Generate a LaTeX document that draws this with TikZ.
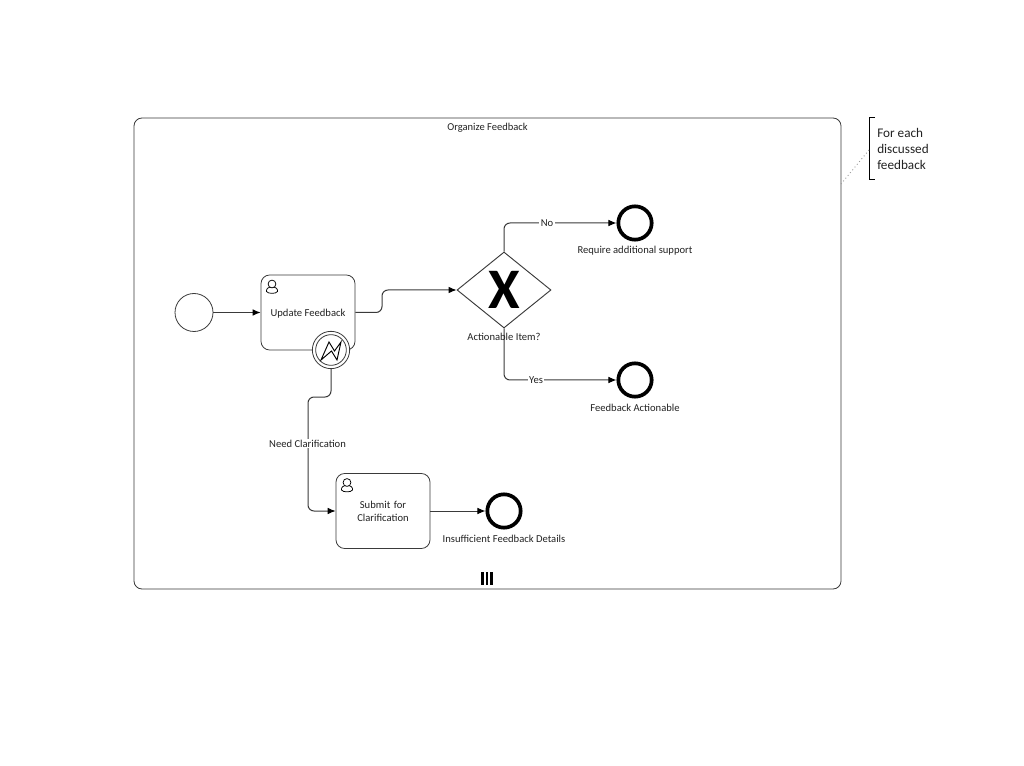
\documentclass[tikz,border=0pt]{standalone}
\usepackage{fontspec}
\setmainfont{Carlito}
\usetikzlibrary{arrows.meta,shapes.geometric}
\definecolor{ln}{HTML}{3A3A3A}
\definecolor{tx}{HTML}{222222}
\tikzset{
  x=0.75pt,y=-0.75pt,
  lab/.style={font=\fontsize{7.95pt}{9.6pt}\selectfont,text=tx,inner sep=0pt,align=center},
  edgelab/.style={lab,fill=white,inner xsep=1pt,inner ysep=0.5pt},
  subproc/.style={draw=ln,line width=0.6pt,rounded corners=6pt,minimum width=530.25pt,minimum height=353.25pt,inner sep=0pt},
  taskbox/.style={draw=ln,line width=0.6pt,fill=white,rounded corners=6.5pt,minimum width=70.5pt,minimum height=56.25pt,inner sep=0pt,lab},
  startev/.style={circle,draw=ln,line width=0.6pt,fill=white,minimum size=28.5pt,inner sep=0pt},
  endev/.style={circle,draw=black,line width=2.8pt,fill=white,minimum size=25pt,inner sep=0pt},
  bnd/.style={circle,draw=ln,line width=0.6pt,fill=white,minimum size=28pt,inner sep=0pt},
  bndin/.style={circle,draw=ln,line width=0.6pt,fill=white,minimum size=23pt,inner sep=0pt},
  gate/.style={diamond,aspect=1.24,draw=ln,line width=0.7pt,fill=white,minimum width=70.5pt,minimum height=57pt,inner sep=0pt},
  flow/.style={draw=ln,line width=0.75pt,rounded corners=4.5pt,-{Latex[length=6pt,width=5pt,black]}},
  usericon/.pic={
    \draw[black,line width=0.55pt,fill=white] (-5.5,6) .. controls (-6,3) and (-3.5,1.5) .. (0,1.5) .. controls (3.5,1.5) and (6,3) .. (5.5,6) .. controls (4,8.5) and (-4,8.5) .. (-5.5,6) -- cycle;
    \draw[black,line width=0.55pt,fill=white] (0,-1.5) circle[radius=3.9];
  }
}
\begin{document}
\begin{tikzpicture}
\useasboundingbox (0,0) rectangle (1024,766);
\node[subproc] (sp) at (487.5,353.5) {};
\node[lab,font=\fontsize{7.9pt}{9.6pt}\selectfont] (sptitle) at (487.5,128) {Organize Feedback};

\node[startev] (start) at (194,312.5) {};
\node[taskbox] (t1) at (308,312.5) {\raisebox{-0.7pt}[\height][\depth]{Update Feedback}};
\node[taskbox,text width=60pt] (t2) at (383,511) {Submit for\\Clarification};
\node[gate] (gw) at (504,290) {};
\node[inner sep=0pt,font=\fontsize{43pt}{43pt}\bfseries\selectfont] (gx) at (504,290) {X};
\node[endev] (e1) at (635,223) {};
\node[endev] (e2) at (635,380) {};
\node[endev] (e3) at (504,511) {};
\node[bnd] (b) at (331,350) {};
\node[bndin] (bi) at (331,350) {};
\draw[black,line width=0.7pt,line join=miter] (321,360) -- (329,342) -- (334.5,351) -- (341,342) -- (337,360) -- (331.5,351) -- cycle;

\pic at (272,285.5) {usericon};
\pic at (347,484) {usericon};

\coordinate (c1) at (382,312.5);
\coordinate (c2) at (382,290);
\coordinate (c3) at (504,223);
\coordinate (c4) at (504,380);
\coordinate (c5) at (331,397);
\coordinate (c6) at (308,397);
\coordinate (c7) at (308,511);

\draw[flow] (start) -- (t1);
\draw[flow] (t1.east) -- (c1) -- (c2) -- (gw.west);
\draw[flow] (gw.north) -- (c3) -- (e1.west);
\draw[flow] (gw.south) -- (c4) -- (e2.west);
\draw[flow] (b.south) -- (c5) -- (c6) -- (c7) -- (t2.west);
\draw[flow] (t2.east) -- (e3.west);

\node[edgelab] (lno) at (547,223) {No};
\node[edgelab] (lyes) at (536,380) {Yes};
\node[edgelab] (lneed) at (307.5,443.5) {Need Clarification};
\node[lab] (lgw) at (504,337) {Actionable Item?};
\node[lab] (l1) at (635,251) {Require additional support};
\node[lab] (l2) at (635,407.5) {Feedback Actionable};
\node[lab] (l3) at (504,538.5) {Insufficient Feedback Details};

\node[fill=black,minimum width=2.2pt,minimum height=9.8pt,inner sep=0pt] (m1) at (482.5,578.5) {};
\node[fill=black,minimum width=2.2pt,minimum height=9.8pt,inner sep=0pt] (m2) at (487,578.5) {};
\node[fill=black,minimum width=2.2pt,minimum height=9.8pt,inner sep=0pt] (m3) at (491.5,578.5) {};

\coordinate (an1) at (875,118);
\coordinate (an2) at (869,118);
\coordinate (an3) at (869,180);
\coordinate (an4) at (875,180);
\coordinate (an5) at (869,150);
\coordinate (an6) at (841,184);
\draw[black,line width=0.75pt] (an1) -- (an2) -- (an3) -- (an4);
\draw[gray!80,line width=0.7pt,dotted] (an5) -- (an6);
\node[anchor=west,align=left,inner sep=0pt,text=tx,font=\fontsize{9.9pt}{11.9pt}\selectfont] (an) at (877,149) {For each\\discussed\\feedback};
\end{tikzpicture}
\end{document}
